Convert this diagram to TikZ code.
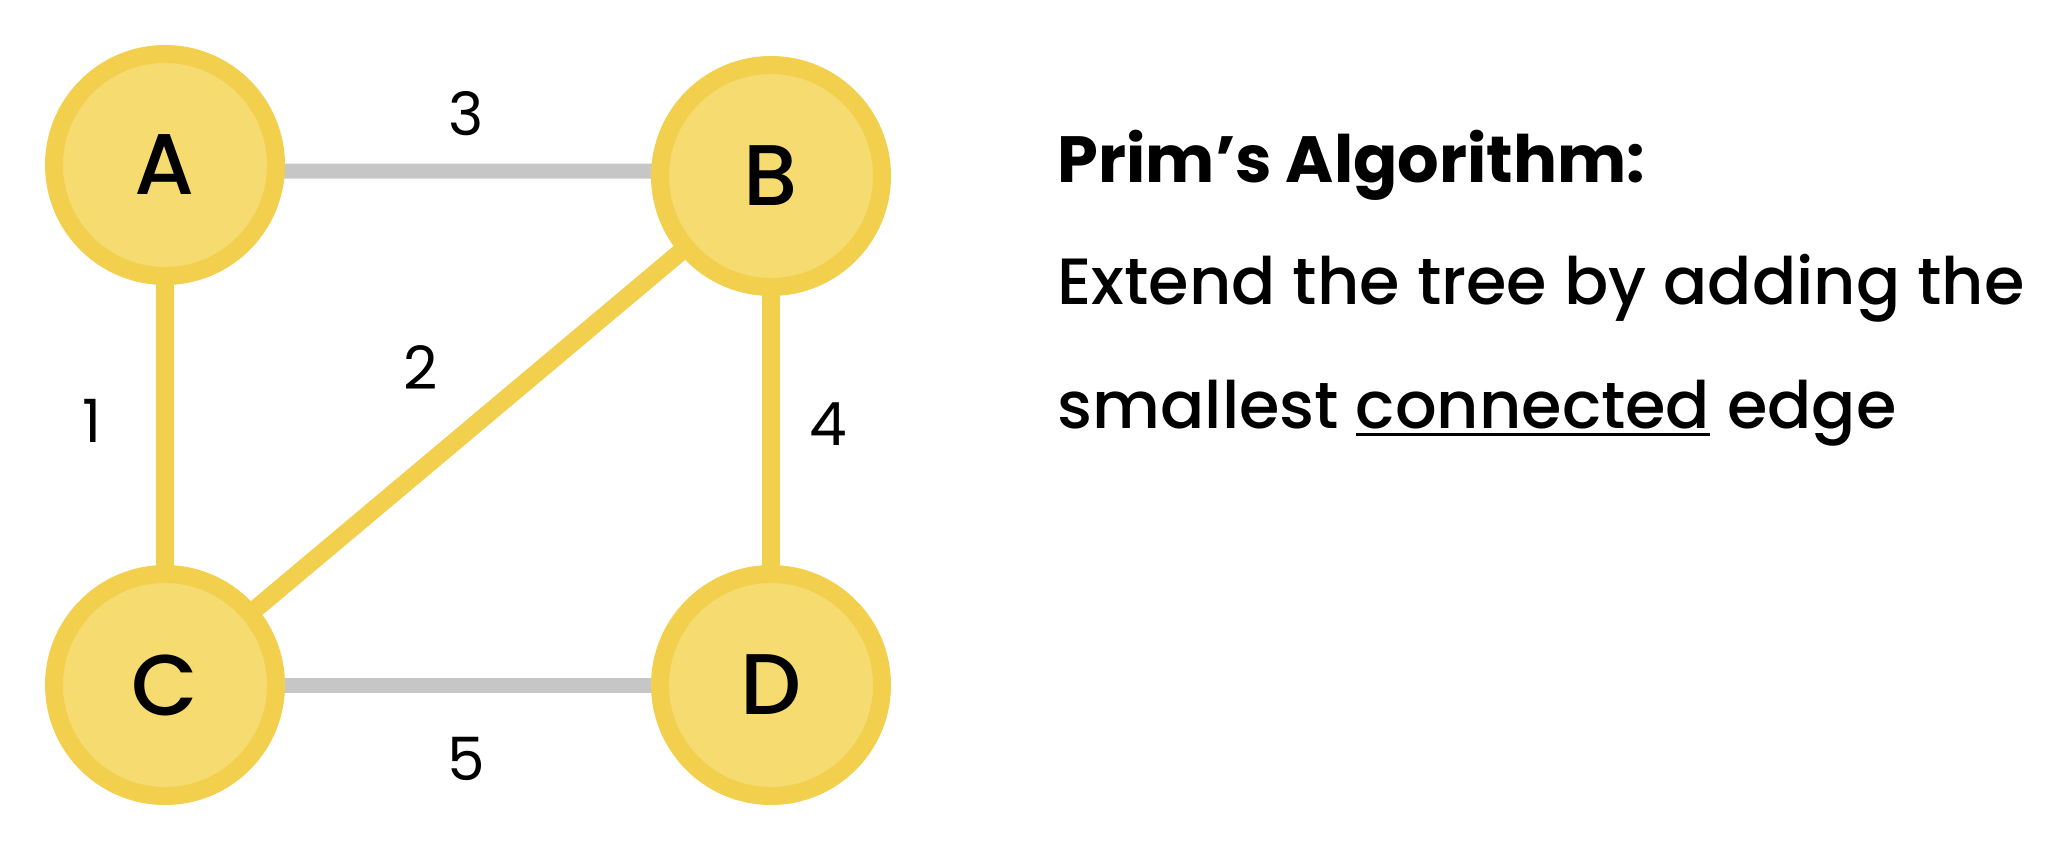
\documentclass[tikz,border=0pt]{standalone}
\usepackage{fontspec}
\setmainfont{Poppins}
\newfontfamily\medfont{Poppins Medium}
\pgfdeclarelayer{background}
\pgfsetlayers{background,main}
\definecolor{ringyellow}{HTML}{F2D04E}
\definecolor{fillyellow}{HTML}{F6DC70}
\definecolor{edgegray}{HTML}{C6C6C6}
\newcommand{\lineunder}[1]{\leavevmode\setbox0=\hbox{#1}\rlap{\rule[-2.2pt]{\wd0}{0.9pt}}\box0\relax}
\tikzset{
  vertex/.style={circle,draw=ringyellow,fill=fillyellow,line width=0.18cm,
    minimum size=2.22cm,inner sep=0pt,font=\medfont\fontsize{24.5}{24.5}\selectfont},
  treeedge/.style={draw=ringyellow,line width=0.18cm},
  grayedge/.style={draw=edgegray,line width=0.15cm},
  weight/.style={inner sep=0pt,font=\fontsize{17}{17}\selectfont},
  caption/.style={anchor=base west,inner sep=0pt,font=\medfont\fontsize{18.6}{18.6}\selectfont}
}

\begin{document}
\begin{tikzpicture}
\useasboundingbox (0,0) rectangle (20.64,-8.40);

\node[vertex] (A) at (1.65,-1.65) {A};
\node[vertex] (B) at (7.71,-1.76) {B};
\node[vertex] (C) at (1.65,-6.85) {C};
\node[vertex] (D) at (7.71,-6.85) {D};

\begin{pgfonlayer}{background}
\path[grayedge] ([yshift=-0.06cm]A.center) edge [] node[]{} ([yshift=0.05cm]B.center);
\path[grayedge] (C.center) edge [] node[]{} (D.center);
\path[treeedge] (A.center) edge [] node[]{} (C.center);
\path[treeedge] (C.center) edge [] node[]{} (B.center);
\path[treeedge] (B.center) edge [] node[]{} (D.center);
\end{pgfonlayer}

\node[weight] (w1) at (0.92,-4.21) {1};
\node[weight] (w2) at (4.21,-3.68) {2};
\node[weight] (w3) at (4.66,-1.14) {3};
\node[weight] (w4) at (8.28,-4.24) {4};
\node[weight] (w5) at (4.66,-7.59) {5};

\node[caption] (title) at (10.57,-1.82) {\fontspec{Poppins Bold}Prim’s Algorithm:};
\node[caption] (line1) at (10.57,-3.04) {Extend the tree by adding the};
\node[caption] (line2) at (10.57,-4.28) {smallest \lineunder{connected} edge};
\end{tikzpicture}
\end{document}
